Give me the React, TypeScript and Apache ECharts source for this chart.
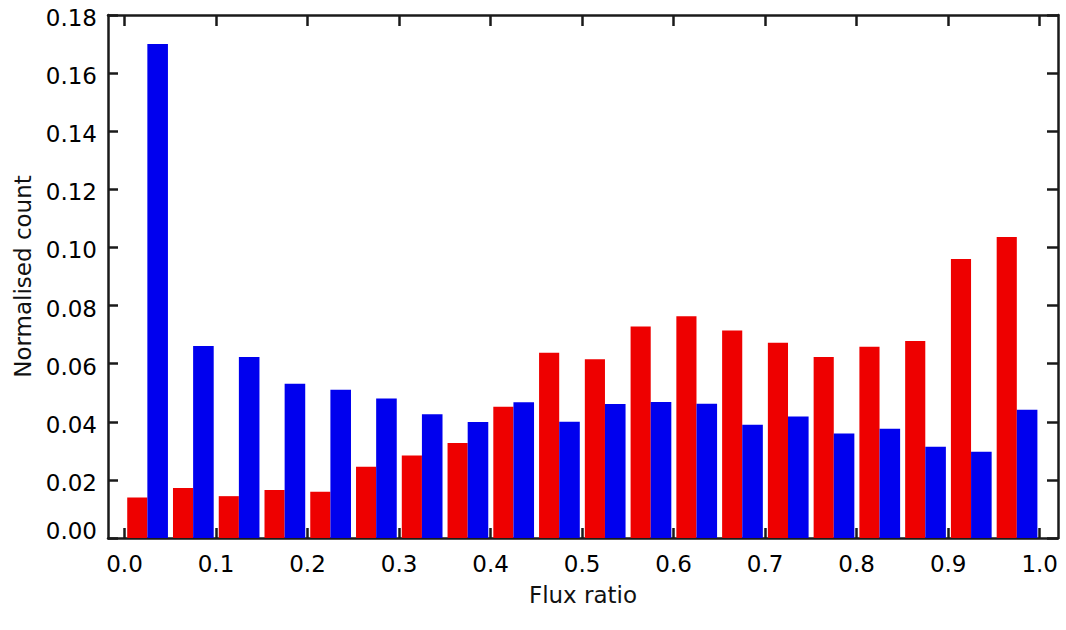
import React, { useEffect, useRef } from "react";
import * as echarts from "echarts";

const binStarts = [0.0, 0.05, 0.1, 0.15, 0.2, 0.25, 0.3, 0.35, 0.4, 0.45, 0.5, 0.55, 0.6, 0.65, 0.7, 0.75, 0.8, 0.85, 0.9, 0.95];
const redValues = [0.0139, 0.0172, 0.0144, 0.0165, 0.0159, 0.0245, 0.0284, 0.0327, 0.0452, 0.0638, 0.0615, 0.0728, 0.0763, 0.0714, 0.0672, 0.0623, 0.0658, 0.0678, 0.0960, 0.1036];
const blueValues = [0.1700, 0.0661, 0.0623, 0.0531, 0.0510, 0.0480, 0.0426, 0.0399, 0.0467, 0.0400, 0.0461, 0.0468, 0.0462, 0.0390, 0.0418, 0.0360, 0.0376, 0.0314, 0.0297, 0.0441];
const xTickValues = [0.0, 0.1, 0.2, 0.3, 0.4, 0.5, 0.6, 0.7, 0.8, 0.9, 1.0];

const FONT = "DejaVu Sans";
const AXIS_COLOR = "#1a1a1a";

function barRenderer(startOffset: number, endOffset: number, color: string) {
  return (params: any, api: any) => {
    const x0 = api.value(0);
    const v = api.value(1);
    const p1 = api.coord([x0 + startOffset, v]);
    const p2 = api.coord([x0 + endOffset, 0]);
    return {
      type: "rect",
      shape: { x: p1[0], y: p1[1], width: p2[0] - p1[0], height: p2[1] - p1[1] },
      style: { fill: color },
    };
  };
}

export default function App() {
  const ref = useRef<HTMLDivElement>(null);
  useEffect(() => {
    if (!ref.current) return;
    const chart = echarts.init(ref.current, null, { renderer: "svg" });
    const lineStyle = { color: AXIS_COLOR, width: 2.5 };
    const tickStyle = { color: AXIS_COLOR, width: 2.5 };
    const option: any = {
      animation: false,
      backgroundColor: "#ffffff",
      grid: { left: 108, right: 8, top: 15, bottom: 92, outerBoundsMode: "none" },
      xAxis: [
        {
          type: "value",
          min: -0.018,
          max: 1.02,
          position: "bottom",
          axisLine: { show: true, onZero: false, lineStyle },
          axisTick: { show: true, inside: true, length: 10, lineStyle: tickStyle, customValues: xTickValues },
          axisLabel: {
            show: true,
            customValues: xTickValues,
            formatter: (v: number) => v.toFixed(1),
            fontFamily: FONT,
            fontSize: 23,
            color: "#000",
            margin: 14,
          },
          splitLine: { show: false },
          name: "Flux ratio",
          nameLocation: "middle",
          nameGap: 45,
          nameTextStyle: { fontFamily: FONT, fontSize: 23, color: "#111" },
        },
        {
          type: "value",
          min: -0.018,
          max: 1.02,
          position: "top",
          axisLine: { show: true, onZero: false, lineStyle },
          axisTick: { show: true, inside: true, length: 11, lineStyle: tickStyle, customValues: xTickValues },
          axisLabel: { show: false, customValues: xTickValues },
          splitLine: { show: false },
        },
      ],
      yAxis: [
        {
          type: "value",
          min: 0,
          max: 0.18,
          interval: 0.02,
          position: "left",
          axisLine: { show: true, onZero: false, lineStyle },
          axisTick: { show: true, inside: true, length: 10, lineStyle: tickStyle },
          axisLabel: {
            show: true,
            margin: 11,
            formatter: (v: number) => (v === 0 ? "{lo|" + v.toFixed(2) + "}" : "{n|" + v.toFixed(2) + "}"),
            rich: {
              n: { fontFamily: FONT, fontSize: 23, color: "#000", padding: [6, 0, 0, 0] },
              lo: { fontFamily: FONT, fontSize: 23, color: "#000", padding: [0, 0, 14, 0] },
            },
            fontFamily: FONT,
            fontSize: 23,
            color: "#000",
          },
          splitLine: { show: false },
          name: "Normalised count",
          nameLocation: "middle",
          nameRotate: 90,
          nameGap: 69,
          nameTextStyle: { fontFamily: FONT, fontSize: 23, color: "#111" },
        },
        {
          type: "value",
          min: 0,
          max: 0.18,
          interval: 0.02,
          position: "right",
          axisLine: { show: true, onZero: false, lineStyle },
          axisTick: { show: true, inside: true, length: 11, lineStyle: tickStyle },
          axisLabel: { show: false },
          splitLine: { show: false },
        },
      ],
      series: [
        {
          type: "custom",
          name: "red",
          xAxisIndex: 0,
          yAxisIndex: 0,
          renderItem: barRenderer(0.003, 0.025, "#ee0000"),
          encode: { x: 0, y: 1 },
          data: binStarts.map((b, i) => [b, redValues[i]]),
          z: 3,
        },
        {
          type: "custom",
          name: "blue",
          xAxisIndex: 0,
          yAxisIndex: 0,
          renderItem: barRenderer(0.025, 0.0475, "#0000ee"),
          encode: { x: 0, y: 1 },
          data: binStarts.map((b, i) => [b, blueValues[i]]),
          z: 3,
        },
      ],
    };
    chart.setOption(option);
    return () => chart.dispose();
  }, []);
  return (
    <div
      ref={ref}
      style={{ position: "fixed", left: 0, top: 0, width: 1066, height: 630, background: "#fff" }}
    />
  );
}
